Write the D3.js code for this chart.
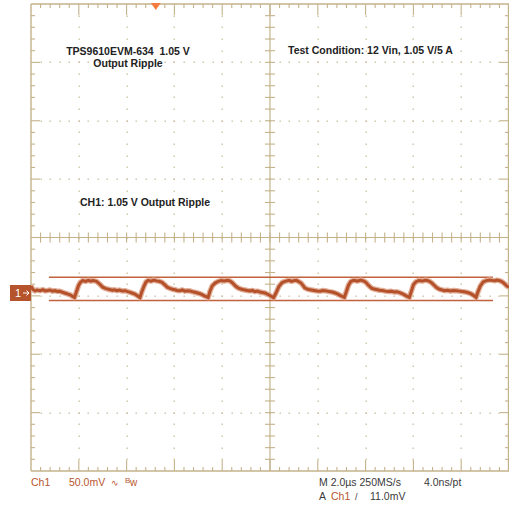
<!DOCTYPE html>
<html>
<head>
<meta charset="utf-8">
<script src="https://cdn.jsdelivr.net/npm/d3@7"></script>
<style>
  html, body { margin: 0; padding: 0; background: #ffffff; }
  svg { display: block; }
  text { white-space: pre; }
</style>
</head>
<body>
<div id="chart"></div>
<script>
// ---------------- DATA ----------------
// Ch1 output ripple trace: time (µs from left edge of screen) and voltage (mV relative to Ch1 ground)
const timeUs = [
  0.00, 0.08, 0.17, 0.25, 0.38, 0.50, 0.59, 0.70, 0.79, 0.90, 1.00, 1.10, 1.21, 1.30, 1.38, 1.47, 1.55, 1.64, 1.72, 1.82,
  1.90, 1.99, 2.07, 2.16, 2.28, 2.40, 2.50, 2.60, 2.74, 2.88, 3.00, 3.14, 3.28, 3.40, 3.49, 3.60, 3.70, 3.81, 3.93, 4.05, 4.15, 4.25, 4.35, 4.45, 4.56,
  4.64, 4.73, 4.81, 4.90, 5.02, 5.14, 5.25, 5.36, 5.48, 5.60, 5.70, 5.81, 5.92, 6.02, 6.12, 6.23, 6.33, 6.44, 6.55, 6.65, 6.76, 6.86, 6.97, 7.07, 7.16, 7.25, 7.33, 7.41,
  7.49, 7.58, 7.70, 7.83, 7.95, 8.08, 8.24, 8.33, 8.41, 8.50, 8.58, 8.66, 8.75, 8.85, 8.95, 9.05, 9.16, 9.26, 9.37, 9.47, 9.58, 9.68, 9.79, 9.87, 9.95, 10.03, 10.15,
  10.25, 10.37, 10.50, 10.60, 10.70, 10.80, 10.90, 11.00, 11.10, 11.20, 11.30, 11.38, 11.45, 11.54, 11.62, 11.74, 11.85, 11.97, 12.10, 12.22, 12.35, 12.47, 12.60, 12.70, 12.80, 12.88, 12.95, 13.03, 13.11,
  13.20, 13.28, 13.38, 13.50, 13.65, 13.80, 13.95, 14.03, 14.10, 14.18, 14.25, 14.35, 14.45, 14.58, 14.70, 14.82, 14.95, 15.08, 15.20, 15.30, 15.40, 15.48, 15.55, 15.63, 15.70, 15.77, 15.83,
  15.92, 16.00, 16.10, 16.22, 16.38, 16.52, 16.65, 16.73, 16.80, 16.88, 16.95, 17.02, 17.10, 17.20, 17.30, 17.42, 17.55, 17.68, 17.80, 17.92, 18.05, 18.18, 18.30, 18.38, 18.45, 18.55, 18.62,
  18.70, 18.80, 18.92, 19.05, 19.20, 19.30, 19.40, 19.50, 19.60, 19.68, 19.75, 19.82, 19.90, 20.00
];
const rippleMv = [
  6.0, 3.0, 1.8, 2.6, 2.0, 2.8, 1.8, 2.2, 2.6, 1.6, 2.0, 1.4, 1.5, 0.8, 0.2, -0.4, -1.0, -1.6, -2.6, -3.9,
  1.0, 6.5, 9.2, 10.6, 10.0, 10.9, 10.2, 10.6, 10.0, 7.5, 5.0, 3.7, 3.0, 2.4, 2.8, 2.0, 2.5, 1.8, 2.0, 1.2, 0.6, -0.2, -1.0, -2.4, -3.9,
  1.2, 6.0, 9.4, 10.8, 10.2, 11.0, 10.4, 10.0, 9.2, 7.0, 5.0, 4.0, 3.2, 2.8, 2.2, 2.0, 2.6, 1.6, 2.0, 1.8, 1.0, 0.6, 0.0, -0.6, -1.4, -2.4, -3.0, -3.9,
  1.5, 6.0, 8.5, 10.0, 10.6, 10.2, 10.8, 10.2, 9.0, 7.2, 5.5, 4.4, 3.6, 3.0, 2.6, 2.2, 1.8, 2.2, 1.2, 1.6, 0.8, 0.4, 0.0, -0.8, -1.5, -2.6, -4.0,
  0.0, 5.5, 8.8, 9.8, 10.4, 10.8, 10.0, 10.6, 10.8, 9.8, 8.5, 6.5, 4.5, 3.6, 3.0, 2.6, 2.2, 1.8, 1.6, 2.2, 1.8, 1.2, 0.8, 0.2, -0.6, -1.4, -2.2, -3.0, -3.8,
  1.5, 6.5, 9.8, 10.8, 10.2, 11.0, 10.0, 8.8, 7.0, 5.4, 4.2, 3.4, 3.0, 2.4, 2.2, 1.6, 1.2, 1.4, 0.9, 1.0, 0.5, -0.2, -0.8, -1.6, -2.5, -3.2, -3.8,
  1.8, 7.0, 9.5, 10.7, 10.2, 11.0, 10.2, 9.2, 8.0, 6.4, 5.0, 4.0, 3.2, 2.6, 2.0, 2.4, 1.7, 2.2, 2.0, 1.6, 1.2, 0.8, 0.2, -0.4, -1.2, -2.5, -3.8,
  1.0, 6.0, 9.5, 10.6, 11.2, 10.8, 10.5, 11.0, 10.6, 10.0, 9.0, 7.8, 6.2, 5.0
];
// Cursor (horizontal bar) levels in mV and their time span in µs
const cursorMv = [13.4, -6.5];
const cursorSpanUs = [0.75, 19.33];
// Trigger position (µs) and Ch1 ground level (mV)
const triggerUs = 5.22;
const groundMv = 0;
// Settings
const voltsPerDivMv = 50;
const timePerDivUs = 2;
const hDivs = 10, vDivs = 8;
// Texts
const titleLines = ["TPS9610EVM-634  1.05 V", "Output Ripple"];
const conditionText = "Test Condition: 12 Vin, 1.05 V/5 A";
const channelNote = "CH1: 1.05 V Output Ripple";
const statusLeft = ["Ch1", "50.0mV", "\u223F", "B", "w"];
const statusRight1 = ["M 2.0\u00B5s 250MS/s", "4.0ns/pt"];
const statusRight2 = ["A", "Ch1", "/", "11.0mV"];

// ---------------- LAYOUT ----------------
const W = 509, H = 510;
const L = 31, R = 509, T = 4, B = 471;
const gridCol = "#c4b38b", dotCol = "#cbbf9f", traceCol = "#b4512a", cursorCol = "#c2623d";

const svg = d3.select("#chart").append("svg").attr("width", W).attr("height", H);

// graticule scales (in divisions)
const gx = d3.scaleLinear().domain([0, hDivs]).range([L, R]);
const gy = d3.scaleLinear().domain([0, vDivs]).range([T, B]);
// data scales: center of screen is ~0.95 div above ground
const groundY = 293;
const pxPerDiv = (B - T) / vDivs;
const centerMv = groundMv + (groundY - gy(vDivs / 2)) / pxPerDiv * voltsPerDivMv;
const x = d3.scaleLinear().domain([0, hDivs * timePerDivUs]).range([L, R]);
const y = d3.scaleLinear()
  .domain([centerMv - vDivs / 2 * voltsPerDivMv, centerMv + vDivs / 2 * voltsPerDivMv])
  .range([B, T]);

const g = svg.append("g");

// dotted grid
const dots = [];
for (let k = 1; k < hDivs; k++) {
  if (k === hDivs / 2) continue;
  for (let j = 1; j < vDivs * 5; j++) dots.push([gx(k), gy(j / 5)]);
}
for (let k = 1; k < vDivs; k++) {
  if (k === vDivs / 2) continue;
  for (let j = 1; j < hDivs * 5; j++) dots.push([gx(j / 5), gy(k)]);
}
g.selectAll("rect.dot").data(dots).join("rect").attr("class", "dot")
  .attr("x", d => Math.round(d[0]) - 0.5).attr("y", d => Math.round(d[1]) - 0.5)
  .attr("width", 1.4).attr("height", 1.4).attr("fill", dotCol);

// border
const line = (x1, y1, x2, y2, w = 1.2) => g.append("line")
  .attr("x1", x1).attr("y1", y1).attr("x2", x2).attr("y2", y2)
  .attr("stroke", gridCol).attr("stroke-width", w);
line(L, T, R, T, 1.4);
line(L, B, R, B, 1.4);
line(L, T, L, B, 1.4);
line(R - 0.5, T, R - 0.5, B, 1.4);
// center axes
line(gx(hDivs / 2), T, gx(hDivs / 2), B, 1.2);
line(L, gy(vDivs / 2), R, gy(vDivs / 2), 1.2);

// ticks on horizontal edges and center horizontal axis
for (let j = 1; j < hDivs * 5; j++) {
  const xx = gx(j / 5);
  const major = j % 5 === 0;
  line(xx, T, xx, T + (major ? 11 : 4), 1.1);
  line(xx, B, xx, B - (major ? 11 : 4), 1.1);
  line(xx, gy(vDivs / 2) - 5, xx, gy(vDivs / 2) + 5, 1.1);
}
// ticks on vertical edges and center vertical axis
for (let j = 1; j < vDivs * 5; j++) {
  const yy = gy(j / 5);
  const major = j % 5 === 0;
  line(L, yy, L + (major ? 9 : 4), yy, 1.1);
  line(R, yy, R - (major ? 9 : 4), yy, 1.1);
  line(gx(hDivs / 2) - 5, yy, gx(hDivs / 2) + 5, yy, 1.1);
}

// cursors
cursorMv.forEach(v => {
  svg.append("line")
    .attr("x1", x(cursorSpanUs[0])).attr("x2", x(cursorSpanUs[1]))
    .attr("y1", y(v)).attr("y2", y(v))
    .attr("stroke", cursorCol).attr("stroke-width", 1.5);
});

// trace
const pts = timeUs.map((t, i) => [t, rippleMv[i]]);
const lineGen = d3.line().x(d => x(d[0])).y(d => y(d[1]));
svg.append("path").datum(pts).attr("d", lineGen)
  .attr("fill", "none").attr("stroke", "#e2b19b").attr("stroke-width", 5.5).attr("stroke-linejoin", "round");
svg.append("path").datum(pts).attr("d", lineGen)
  .attr("fill", "none").attr("stroke", traceCol).attr("stroke-width", 3).attr("stroke-linejoin", "miter");

// trigger marker
const tx = x(triggerUs);
svg.append("path").attr("d", `M${tx - 5},${T - 1} L${tx + 5},${T - 1} L${tx},${T + 6} Z`).attr("fill", "#f47b3e");

// channel ground marker
const gm = svg.append("g");
gm.append("rect").attr("x", 10).attr("y", y(groundMv) - 8).attr("width", L - 10).attr("height", 16).attr("fill", "#b5532c");
gm.append("text").attr("x", 15).attr("y", y(groundMv) + 4).attr("fill", "#fff")
  .attr("font-family", "Liberation Sans, Arial, sans-serif").attr("font-size", 11).text("1");
gm.append("path").attr("d", `M23,${y(groundMv)} L29,${y(groundMv)} M26.5,${y(groundMv) - 2.5} L29,${y(groundMv)} L26.5,${y(groundMv) + 2.5}`)
  .attr("stroke", "#fff").attr("stroke-width", 1).attr("fill", "none");

// annotations
const bold = (txt, xx, yy, anchor) => svg.append("text").attr("x", xx).attr("y", yy)
  .attr("text-anchor", anchor).attr("font-family", "Liberation Sans, Arial, sans-serif")
  .attr("font-weight", "bold").attr("font-size", 10.5).attr("fill", "#222").text(txt);
bold(titleLines[0], 128, 55, "middle");
bold(titleLines[1], 128, 67, "middle");
bold(conditionText, 288, 54, "start");
bold(channelNote, 80, 206, "start");

// status line
const st = (txt, xx, yy, col, size = 10.5) => svg.append("text").attr("x", xx).attr("y", yy)
  .attr("font-family", "Liberation Sans, Arial, sans-serif").attr("font-size", size).attr("fill", col).text(txt);
const orange = "#b9552f", dark = "#3a3a3a";
st(statusLeft[0], 31, 486, orange);
st(statusLeft[1], 69, 486, orange);
st(statusLeft[2], 111, 486, orange, 9);
st(statusLeft[3], 125, 483, orange, 8);
st(statusLeft[4], 130, 486, orange, 10);
st(statusRight1[0], 319, 486, dark);
st(statusRight1[1], 424, 486, dark);
st(statusRight2[0], 319, 500, dark);
st(statusRight2[1], 331, 500, orange);
st(statusRight2[2], 355, 500, dark, 9);
st(statusRight2[3], 370, 500, dark);
</script>
</body>
</html>
